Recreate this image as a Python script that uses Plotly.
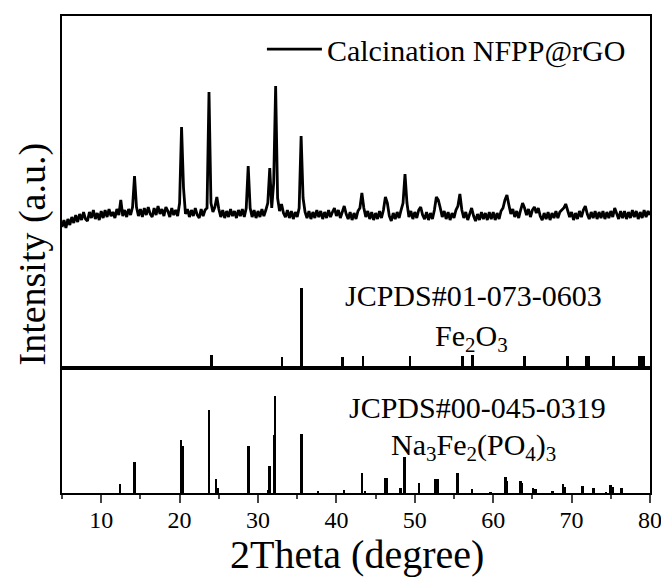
import numpy as np
import plotly.graph_objects as go

# measured pattern, 2theta 5-80 deg, step 0.25 deg (a.u.)
two_theta = np.linspace(5, 80, 301)
seg_05 = [141, 148, 140, 149, 143, 151, 145, 153, 146, 154, 148, 156, 149, 147, 156, 150, 158, 149, 155, 148]
seg_10 = [157, 150, 158, 151, 159, 152, 156, 150, 159, 153, 168, 152, 158, 151, 159, 153, 161, 192, 161, 152]
seg_15 = [159, 151, 160, 153, 161, 154, 151, 160, 153, 162, 154, 159, 152, 161, 157, 151, 160, 153, 158, 152]
seg_20 = [165, 241, 180, 154, 159, 151, 158, 152, 160, 153, 150, 159, 152, 158, 160, 276, 165, 156, 161, 171]
seg_25 = [159, 151, 158, 150, 157, 151, 159, 152, 157, 150, 158, 152, 159, 151, 160, 202, 160, 151, 158, 150]
seg_30 = [157, 151, 159, 152, 158, 165, 200, 160, 185, 282, 170, 157, 164, 155, 151, 158, 150, 157, 149, 156]
seg_35 = [151, 160, 232, 170, 156, 150, 157, 149, 156, 150, 158, 151, 157, 149, 156, 150, 158, 151, 156, 160]
seg_40 = [152, 158, 150, 157, 162, 154, 149, 156, 148, 155, 149, 157, 160, 175, 160, 151, 157, 149, 156, 148]
seg_45 = [155, 149, 157, 150, 158, 171, 165, 152, 147, 155, 149, 156, 150, 158, 165, 194, 165, 151, 157, 149]
seg_50 = [156, 150, 158, 161, 153, 149, 156, 148, 155, 149, 158, 171, 168, 160, 151, 157, 149, 156, 148, 155]
seg_55 = [150, 158, 162, 174, 158, 150, 156, 148, 155, 160, 152, 147, 154, 148, 156, 149, 155, 148, 156, 149]
seg_60 = [156, 148, 155, 149, 157, 160, 168, 173, 163, 154, 159, 151, 157, 150, 158, 165, 160, 153, 159, 151]
seg_65 = [158, 161, 155, 160, 152, 148, 155, 149, 156, 148, 155, 150, 157, 150, 156, 158, 160, 164, 156, 151]
seg_70 = [156, 148, 155, 149, 157, 151, 158, 162, 154, 149, 156, 150, 157, 149, 156, 150, 157, 149, 156, 150]
seg_75 = [157, 151, 160, 154, 149, 157, 150, 157, 149, 156, 150, 158, 151, 157, 149, 156, 150, 158, 151, 157, 153]
intensity = (seg_05 + seg_10 + seg_15 + seg_20 + seg_25 + seg_30 + seg_35 + seg_40
             + seg_45 + seg_50 + seg_55 + seg_60 + seg_65 + seg_70 + seg_75)

# JCPDS#01-073-0603 Fe2O3 (relative intensity)
fe2o3_pos = [24.1, 33.1, 35.6, 40.8, 43.4, 49.4, 56.1, 57.4, 64.0, 69.5, 71.9, 72.2, 75.4, 78.7, 79.0, 79.3]
fe2o3_int = [16, 14, 100, 14, 15, 15, 15, 16, 15, 15, 15, 15, 15, 15, 15, 15]

# JCPDS#00-045-0319 Na3Fe2(PO4)3 (relative intensity)
nfp_pos = [12.4, 14.3, 20.2, 20.4, 23.8, 24.7, 24.9, 28.8, 31.3, 31.5, 32.1, 32.2, 35.6, 37.7,
           41.0, 43.3, 43.7, 46.2, 46.4, 48.2, 48.7, 50.6, 52.7, 53.0, 55.5, 57.3, 59.7, 61.6,
           61.8, 63.5, 63.7, 65.1, 65.4, 67.6, 68.9, 69.1, 71.4, 72.8, 74.4, 75.0, 75.3, 76.4]
nfp_int = [9, 32, 55, 48, 86, 14, 5, 49, 3, 28, 60, 100, 61, 2,
           3, 21, 2, 15, 15, 5, 37, 10, 14, 14, 21, 4, 1, 16,
           12, 12, 10, 5, 4, 2, 9, 6, 7, 5, 1, 8, 6, 5]

font = "Times New Roman"
split = 0.262

fig = go.Figure()
fig.add_trace(go.Bar(x=nfp_pos, y=nfp_int, width=0.25, marker=dict(color="black", line_width=0),
                     xaxis="x", yaxis="y", showlegend=False))
fig.add_trace(go.Bar(x=fe2o3_pos, y=fe2o3_int, width=0.25, marker=dict(color="black", line_width=0),
                     xaxis="x2", yaxis="y2", showlegend=False))
fig.add_trace(go.Scatter(x=two_theta, y=intensity, mode="lines", line=dict(color="black", width=2.8),
                         name="Calcination NFPP@rGO", xaxis="x2", yaxis="y3"))

axis_common = dict(showline=True, linewidth=2, linecolor="black", mirror=True,
                   showgrid=False, zeroline=False)


def label(text, x, y, size=30, angle=0):
    return dict(text=text, x=x, y=y, xref="paper", yref="paper", xanchor="center",
                yanchor="middle", textangle=angle, showarrow=False,
                font=dict(family=font, size=size, color="black"))


# page body has an 8px margin, so the figure is shifted; margins compensate
fig.update_layout(
    width=661, height=571,
    margin=dict(l=54, r=19, t=8, b=86, autoexpand=False),
    plot_bgcolor="white", paper_bgcolor="white",
    font=dict(family=font, color="black"),
    bargap=0,
    xaxis=dict(range=[5, 80], dtick=10, ticks="outside", ticklen=8, tickwidth=2,
               minor=dict(dtick=5, ticks="outside", ticklen=4, tickwidth=2),
               tickfont=dict(family=font, size=24, color="black"), ticklabelstandoff=-4,
               anchor="y", **axis_common),
    yaxis=dict(domain=[0, split], range=[0, 129], showticklabels=False, ticks="",
               anchor="x", **axis_common),
    xaxis2=dict(range=[5, 80], matches="x", showticklabels=False, ticks="",
                anchor="y2", **axis_common),
    yaxis2=dict(domain=[split, 1], range=[0, 440], showticklabels=False, ticks="",
                anchor="x2", **axis_common),
    yaxis3=dict(range=[0, 352], overlaying="y2", showticklabels=False, ticks="",
                showgrid=False, zeroline=False, showline=False),
    legend=dict(x=0.34, y=0.985, xanchor="left", yanchor="top", itemwidth=55,
                font=dict(family=font, size=30), bgcolor="rgba(0,0,0,0)"),
    annotations=[
        label("JCPDS#01-073-0603", 0.699, 0.415),
        label("Fe<sub>2</sub>O<sub>3</sub>", 0.697, 0.325),
        label("JCPDS#00-045-0319", 0.707, 0.180),
        label("Na<sub>3</sub>Fe<sub>2</sub>(PO<sub>4</sub>)<sub>3</sub>", 0.70, 0.096),
        label("2Theta (degree)", 0.502, -0.128, size=40),
        label("Intensity (a.u.)", -0.051, 0.50, size=38, angle=-90),
    ],
)

fig.write_html("out.html")
